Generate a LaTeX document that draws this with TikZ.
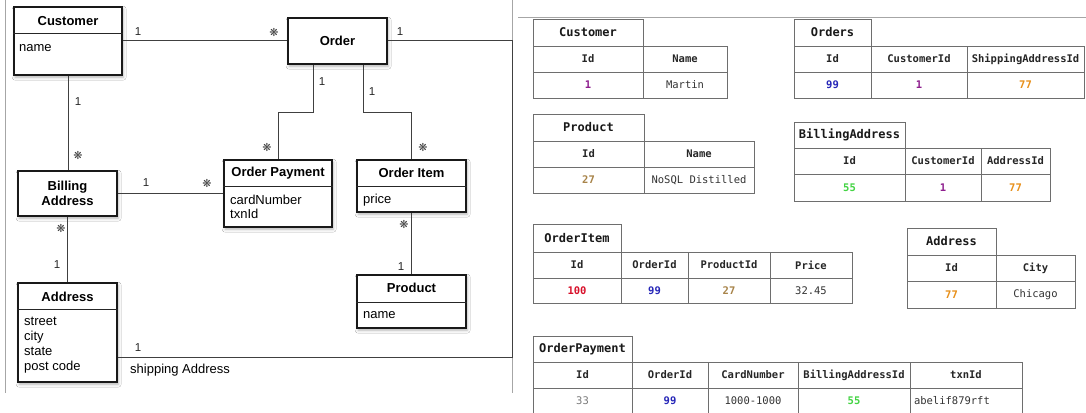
\documentclass[tikz,border=0pt]{standalone}
\usepackage{fontspec}
\setmainfont{Liberation Sans}
\newfontfamily\tblfont{DejaVu Sans Mono}
\newfontfamily\starfont{DejaVu Sans}
\usetikzlibrary{shadows.blur}

\definecolor{keypurple}{HTML}{8E1E8E}
\definecolor{keyblue}{HTML}{2626B8}
\definecolor{keyorange}{HTML}{E8901A}
\definecolor{keybrown}{HTML}{A8844A}
\definecolor{keygreen}{HTML}{44D444}
\definecolor{keyred}{HTML}{D8102A}
\definecolor{keygray}{HTML}{7A7A7A}
\definecolor{gridline}{HTML}{6E6E6E}

\tikzset{
  umlbox/.style={draw=black!90, line width=1.1pt, fill=white, inner sep=0pt,
    blur shadow={shadow xshift=1.2pt, shadow yshift=-2.2pt,
                 shadow blur radius=3pt, shadow opacity=30}},
  compline/.style={draw=black!85, line width=0.9pt},
  link/.style={draw=black!75, line width=1pt},
  framel/.style={draw=black!35, line width=0.7pt},
  mult/.style={font=\fontsize{11.5}{12}\selectfont, text=black!85, inner sep=0pt},
  many/.style={font=\starfont\fontsize{11}{12}\selectfont, text=black!75, inner sep=0pt},
  ttl/.style={font=\bfseries\fontsize{13}{15}\selectfont, inner sep=0pt, align=center},
  attr/.style={font=\fontsize{13}{14.5}\selectfont, inner sep=0pt, anchor=west, align=left},
  cell/.style={draw=gridline, line width=0.8pt, inner sep=0pt,
    font=\tblfont\fontsize{10.5}{12}\selectfont, text=black!80},
  tabtitle/.style={font=\tblfont\bfseries\fontsize{12}{14}\selectfont, text=black!90},
  tabhead/.style={font=\tblfont\bfseries\fontsize{10.5}{12}\selectfont, text=black!85},
  keyval/.style={font=\tblfont\bfseries\fontsize{10.5}{12}\selectfont},
}

% class box: name, x1, y1, x2, y2 (pixel grid, y downwards)
\newcommand\umlnode[5]{%
  \node[umlbox, minimum width={(#4-#2)*1pt}, minimum height={(#5-#3)*1pt}]
    (#1) at ({(#2+#4)/2},{(#3+#5)/2}) {};}
% table cell: [style] name, x1, y1, x2, y2, text
\newcommand\tcell[7][]{%
  \node[cell, minimum width={(#5-#3)*1pt}, minimum height={(#6-#4)*1pt}, #1]
    (#2) at ({(#3+#5)/2},{(#4+#6)/2}) {#7};}

\begin{document}
\begin{tikzpicture}[x=1pt, y=-1pt]
\useasboundingbox[fill=white] (0,0) rectangle (1086,412);

% ---------- class diagram ----------
\draw[framel] (5,0) -- (5,393);
\draw[framel] (512,0) -- (512,393);

\umlnode{cust}{14}{7}{122}{75}
\draw[compline] (cust.west |- 0,33) -- (cust.east |- 0,33);
\node[ttl] (custT) at (68,21) {Customer};
\node[attr] (custA) at (19,48) {name};

\umlnode{ord}{288}{18}{387}{64}
\node[ttl] (ordT) at (ord) {Order};

\umlnode{pay}{224}{160}{332}{227}
\draw[compline] (pay.west |- 0,186) -- (pay.east |- 0,186);
\node[ttl] (payT) at (278,173) {Order Payment};
\node[attr] (payA) at (230,207) {cardNumber\\txnId};

\umlnode{item}{357}{160}{466}{212}
\draw[compline] (item.west |- 0,186) -- (item.east |- 0,186);
\node[ttl] (itemT) at (411.5,173) {Order Item};
\node[attr] (itemA) at (363,200) {price};

\umlnode{bill}{18}{171}{117}{216}
\node[ttl] (billT) at (bill) {Billing\\Address};

\umlnode{addr}{18}{283}{117}{382}
\draw[compline] (addr.west |- 0,309) -- (addr.east |- 0,309);
\node[ttl] (addrT) at (67.5,297) {Address};
\node[attr, font=\fontsize{13}{15}\selectfont] (addrA) at (24,345.5) {street\\city\\state\\post code};

\umlnode{prod}{357}{275}{466}{328}
\draw[compline] (prod.west |- 0,302) -- (prod.east |- 0,302);
\node[ttl] (prodT) at (411.5,288) {Product};
\node[attr] (prodA) at (363,315) {name};

% associations
\coordinate (shipTop) at (512,41);
\coordinate (shipBot) at (512,357);
\draw[link] (cust.east |- ord.west) -- (ord.west);
\draw[link] (ord.east) -- (ord.east -| shipTop) -- (shipBot) -- (addr.east |- shipBot);
\draw[link] ([xshift=-24.5pt]ord.south) -- ++(0,48) -| (pay.north);
\draw[link] ([xshift=25.5pt]ord.south) -- ++(0,48) -| (item.north);
\draw[link] (cust.south) -- (cust.south |- bill.north);
\draw[link] (bill.east |- 0,193) -- (pay.west |- 0,193);
\draw[link] (bill.south) -- (addr.north);
\draw[link] (item.south) -- (prod.north);

% multiplicities
\node[mult] (m1) at (138,32) {1};
\node[many] (m2) at (274,32) {❋};
\node[mult] (m3) at (400,32) {1};
\node[mult] (m4) at (322,82) {1};
\node[many] (m5) at (267,147) {❋};
\node[mult] (m6) at (372,92) {1};
\node[many] (m7) at (423,147) {❋};
\node[mult] (m8) at (78,102) {1};
\node[many] (m9) at (78,155) {❋};
\node[mult] (m10) at (146,183) {1};
\node[many] (m11) at (207,183) {❋};
\node[many] (m12) at (61,228) {❋};
\node[mult] (m13) at (57,265) {1};
\node[many] (m14) at (404,224) {❋};
\node[mult] (m15) at (401,267) {1};
\node[mult] (m16) at (138,348) {1};
\node[attr] (shipL) at (130,370) {shipping Address};

% ---------- relational tables ----------
\draw[framel] (518,17.5) -- (1086,17.5);

% Customer
\tcell[tabtitle]{cuT}{533}{19}{643}{46}{Customer}
\tcell[tabhead]{cuH1}{533}{46}{643}{72}{Id}
\tcell[tabhead]{cuH2}{643}{46}{727}{72}{Name}
\tcell[keyval, text=keypurple]{cuD1}{533}{72}{643}{98}{1}
\tcell{cuD2}{643}{72}{727}{98}{Martin}

% Orders
\tcell[tabtitle]{orT}{794}{19}{871}{46}{Orders}
\tcell[tabhead]{orH1}{794}{46}{871}{72}{Id}
\tcell[tabhead]{orH2}{871}{46}{967}{72}{CustomerId}
\tcell[tabhead]{orH3}{967}{46}{1084}{72}{ShippingAddressId}
\tcell[keyval, text=keyblue]{orD1}{794}{72}{871}{98}{99}
\tcell[keyval, text=keypurple]{orD2}{871}{72}{967}{98}{1}
\tcell[keyval, text=keyorange]{orD3}{967}{72}{1084}{98}{77}

% Product
\tcell[tabtitle]{prT}{533}{114}{644}{141}{Product}
\tcell[tabhead]{prH1}{533}{141}{644}{167}{Id}
\tcell[tabhead]{prH2}{644}{141}{754}{167}{Name}
\tcell[keyval, text=keybrown]{prD1}{533}{167}{644}{193}{27}
\tcell{prD2}{644}{167}{754}{193}{NoSQL Distilled}

% BillingAddress
\tcell[tabtitle]{baT}{794}{122}{905}{148}{BillingAddress}
\tcell[tabhead]{baH1}{794}{148}{905}{174}{Id}
\tcell[tabhead]{baH2}{905}{148}{981}{174}{CustomerId}
\tcell[tabhead]{baH3}{981}{148}{1050}{174}{AddressId}
\tcell[keyval, text=keygreen]{baD1}{794}{174}{905}{201}{55}
\tcell[keyval, text=keypurple]{baD2}{905}{174}{981}{201}{1}
\tcell[keyval, text=keyorange]{baD3}{981}{174}{1050}{201}{77}

% OrderItem
\tcell[tabtitle]{oiT}{533}{224}{621}{252}{OrderItem}
\tcell[tabhead]{oiH1}{533}{252}{621}{278}{Id}
\tcell[tabhead]{oiH2}{621}{252}{688}{278}{OrderId}
\tcell[tabhead]{oiH3}{688}{252}{770}{278}{ProductId}
\tcell[tabhead]{oiH4}{770}{252}{852}{278}{Price}
\tcell[keyval, text=keyred]{oiD1}{533}{278}{621}{303}{100}
\tcell[keyval, text=keyblue]{oiD2}{621}{278}{688}{303}{99}
\tcell[keyval, text=keybrown]{oiD3}{688}{278}{770}{303}{27}
\tcell{oiD4}{770}{278}{852}{303}{32.45}

% Address
\tcell[tabtitle]{adT}{907}{228}{996}{255}{Address}
\tcell[tabhead]{adH1}{907}{255}{996}{281}{Id}
\tcell[tabhead]{adH2}{996}{255}{1075}{281}{City}
\tcell[keyval, text=keyorange]{adD1}{907}{281}{996}{308}{77}
\tcell{adD2}{996}{281}{1075}{308}{Chicago}

% OrderPayment
\tcell[tabtitle]{opT}{533}{336}{632}{362}{OrderPayment}
\tcell[tabhead]{opH1}{533}{362}{632}{388}{Id}
\tcell[tabhead]{opH2}{632}{362}{708}{388}{OrderId}
\tcell[tabhead]{opH3}{708}{362}{798}{388}{CardNumber}
\tcell[tabhead]{opH4}{798}{362}{910}{388}{BillingAddressId}
\tcell[tabhead]{opH5}{910}{362}{1022}{388}{txnId}
\tcell[text=keygray]{opD1}{533}{388}{632}{414}{33}
\tcell[keyval, text=keyblue]{opD2}{632}{388}{708}{414}{99}
\tcell{opD3}{708}{388}{798}{414}{1000-1000}
\tcell[keyval, text=keygreen]{opD4}{798}{388}{910}{414}{55}
\tcell[text width=104pt, align=left]{opD5}{910}{388}{1022}{414}{abelif879rft}
\end{tikzpicture}
\end{document}
